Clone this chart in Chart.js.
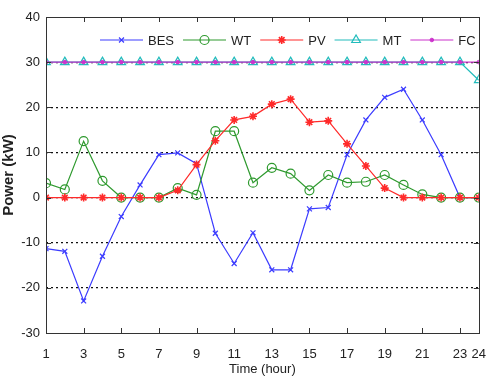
<!DOCTYPE html>
<html>
<head>
<meta charset="utf-8">
<script src="https://cdn.jsdelivr.net/npm/chart.js@4/dist/chart.umd.min.js"></script>
<style>
  html, body { margin: 0; padding: 0; background: #fff; }
  #wrap { width: 492px; height: 381px; }
</style>
</head>
<body>
<div id="wrap"><canvas id="powerChart" width="492" height="381"></canvas></div>
<script>
// hourly data (kW)
const hours = [1, 2, 3, 4, 5, 6, 7, 8, 9, 10, 11, 12, 13, 14, 15, 16, 17, 18, 19, 20, 21, 22, 23, 24];
const bes = [-11.3, -11.9, -22.9, -13, -4.2, 2.8, 9.5, 9.9, 7.5, -7.9, -14.6, -7.8, -16, -16, -2.5, -2.2, 9.5, 17.2, 22.2, 24, 17.2, 9.5, 0, 0];
const wt  = [3.2, 1.8, 12.5, 3.7, 0, 0, 0, 2.1, 0.6, 14.7, 14.7, 3.3, 6.6, 5.3, 1.6, 5, 3.3, 3.5, 5, 2.8, 0.7, 0, 0, 0];
const pv  = [0, 0, 0, 0, 0, 0, 0, 1.6, 7.3, 12.6, 17.2, 18, 20.7, 21.8, 16.7, 17, 11.9, 7, 2.1, 0, 0, 0, 0, 0];
const mt  = [30, 30, 30, 30, 30, 30, 30, 30, 30, 30, 30, 30, 30, 30, 30, 30, 30, 30, 30, 30, 30, 30, 30, 26];
const fc  = [30, 30, 30, 30, 30, 30, 30, 30, 30, 30, 30, 30, 30, 30, 30, 30, 30, 30, 30, 30, 30, 30, 30, 30];

const xTicks = [1, 3, 5, 7, 9, 11, 13, 15, 17, 19, 21, 23, 24];
const yMin = -30, yMax = 40;

const FONT = "'Liberation Sans', Arial, sans-serif";

function pts(arr) {
    return arr.map((v, i) => ({ x: hours[i], y: v }));
}

// box around the plot + inward tick marks + legend inside the plot
const framePlugin = {
    id: "frame",
    afterDraw(chart) {
        const ctx = chart.ctx;
        const a = chart.chartArea;
        const xs = chart.scales.x, ys = chart.scales.y;
        ctx.save();
        ctx.strokeStyle = "#333";
        ctx.lineWidth = 1;
        ctx.strokeRect(Math.round(a.left) + 0.5, Math.round(a.top) + 0.5, Math.round(a.right - a.left), Math.round(a.bottom - a.top));
        ctx.beginPath();
        xTicks.forEach(v => {
            const px = Math.round(xs.getPixelForValue(v)) + 0.5;
            ctx.moveTo(px, a.bottom); ctx.lineTo(px, a.bottom - 5);
            ctx.moveTo(px, a.top); ctx.lineTo(px, a.top + 5);
        });
        ys.ticks.forEach(t => {
            const py = Math.round(ys.getPixelForValue(t.value)) + 0.5;
            ctx.moveTo(a.left, py); ctx.lineTo(a.left + 5, py);
            ctx.moveTo(a.right, py); ctx.lineTo(a.right - 5, py);
        });
        ctx.stroke();

        // legend
        let x = a.left + 54;
        const y = a.top + 23;
        ctx.font = "13px " + FONT;
        ctx.textBaseline = "middle";
        chart.data.datasets.forEach(ds => {
            ctx.strokeStyle = ds.borderColor;
            ctx.lineWidth = 1.2;
            ctx.beginPath();
            ctx.moveTo(x, y); ctx.lineTo(x + 43, y);
            ctx.stroke();
            ctx.fillStyle = ds.pointBackgroundColor;
            ctx.strokeStyle = ds.pointBorderColor;
            ctx.lineWidth = ds.pointBorderWidth;
            Chart.helpers.drawPoint(ctx, {
                pointStyle: ds.pointStyle,
                radius: ds.pointRadius,
                borderWidth: ds.pointBorderWidth,
                rotation: 0
            }, x + 21.5, y);
            ctx.fillStyle = "#222";
            ctx.fillText(ds.label, x + 48, y + 1);
            x += 48 + ctx.measureText(ds.label).width + 9;
        });
        ctx.restore();
    }
};

new Chart(document.getElementById("powerChart"), {
    type: "line",
    data: {
        datasets: [
            { label: "BES", data: pts(bes), borderColor: "#3c3cff", pointBackgroundColor: "#3c3cff", pointBorderColor: "#3c3cff",
              pointStyle: "crossRot", pointRadius: 3.5, pointBorderWidth: 1.2, borderWidth: 1.2, order: 5 },
            { label: "WT", data: pts(wt), borderColor: "#2f9a2f", pointBackgroundColor: "rgba(0,0,0,0)", pointBorderColor: "#2f9a2f",
              pointStyle: "circle", pointRadius: 4.5, pointBorderWidth: 1.2, borderWidth: 1.2, order: 4 },
            { label: "PV", data: pts(pv), borderColor: "#ff2a2a", pointBackgroundColor: "#ff2a2a", pointBorderColor: "#ff2a2a",
              pointStyle: "star", pointRadius: 4, pointBorderWidth: 1.6, borderWidth: 1.2, order: 3 },
            { label: "MT", data: pts(mt), borderColor: "#22bcbc", pointBackgroundColor: "rgba(0,0,0,0)", pointBorderColor: "#22bcbc",
              pointStyle: "triangle", pointRadius: 5, pointBorderWidth: 1.2, borderWidth: 1.2, order: 2 },
            { label: "FC", data: pts(fc), borderColor: "#cc33cc", pointBackgroundColor: "#cc33cc", pointBorderColor: "#cc33cc",
              pointStyle: "circle", pointRadius: 1.8, pointBorderWidth: 1, borderWidth: 1.2, order: 1 }
        ]
    },
    options: {
        responsive: false,
        animation: false,
        tension: 0,
        layout: { padding: { top: 17, right: 6, left: 0, bottom: 0 } },
        plugins: {
            legend: { display: false },
            tooltip: { enabled: false }
        },
        scales: {
            x: {
                type: "linear",
                min: 1,
                max: 24,
                afterBuildTicks: s => { s.ticks = xTicks.map(v => ({ value: v })); },
                afterFit: s => { s.height = 48; },
                grid: { display: false },
                border: { display: false },
                ticks: { color: "#222", font: { family: FONT, size: 13 }, padding: 6, maxRotation: 0, autoSkip: false },
                title: { display: true, text: "Time (hour)", color: "#222", font: { family: FONT, size: 13 }, padding: { top: 3 } }
            },
            y: {
                min: yMin,
                max: yMax,
                afterFit: s => { s.width = 46; },
                ticks: { stepSize: 10, color: "#222", font: { family: FONT, size: 13 }, padding: 6 },
                grid: {
                    color: c => (c.tick.value === yMin || c.tick.value === yMax) ? "rgba(0,0,0,0)" : "#111",
                    lineWidth: 1.2,
                    drawTicks: false
                },
                border: { display: false, dash: [2, 3] },
                title: { display: true, text: "Power (kW)", color: "#222", font: { family: FONT, size: 15, weight: "bold" }, padding: { top: 0, bottom: 0 } }
            }
        }
    },
    plugins: [framePlugin]
});
</script>
</body>
</html>
